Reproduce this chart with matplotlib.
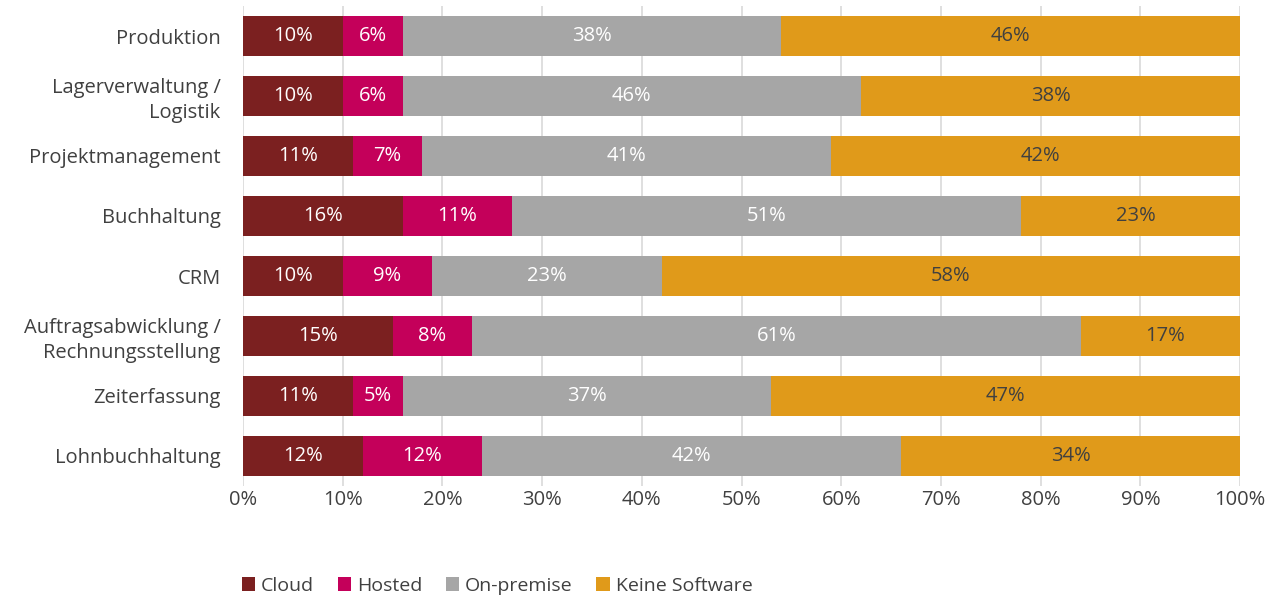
import numpy as np
import matplotlib.pyplot as plt

plt.rcParams['font.family'] = ['Open Sans', 'DejaVu Sans']

kategorien = ['Produktion', 'Lagerverwaltung /\nLogistik', 'Projektmanagement', 'Buchhaltung',
              'CRM', 'Auftragsabwicklung /\nRechnungsstellung', 'Zeiterfassung', 'Lohnbuchhaltung']
cloud = [10, 10, 11, 16, 10, 15, 11, 12]
hosted = [6, 6, 7, 11, 9, 8, 5, 12]
onpremise = [38, 46, 41, 51, 23, 61, 37, 42]
keine = [46, 38, 42, 23, 58, 17, 47, 34]

serien = ['Cloud', 'Hosted', 'On-premise', 'Keine Software']
farben = ['#7B2020', '#C4005A', '#A6A6A6', '#E09A1A']
textfarben = ['white', 'white', 'white', '#404040']

fig = plt.figure(figsize=(12.72, 6), dpi=100)
ax = fig.add_axes([0.191, 0.19, 0.784, 0.80])

y = np.arange(len(kategorien))
links = np.zeros(len(kategorien))
for werte, name, farbe, tf in zip([cloud, hosted, onpremise, keine], serien, farben, textfarben):
    werte = np.array(werte, dtype=float)
    ax.barh(y, werte, left=links, height=0.67, color=farbe, label=name, zorder=3)
    for i in range(len(werte)):
        ax.text(links[i] + werte[i] / 2, y[i], "%d%%" % werte[i], ha='center', va='center',
                color=tf, fontsize=14.5, zorder=4)
    links += werte

ax.set_xlim(0, 100)
ax.set_ylim(len(kategorien) - 0.5, -0.5)
ax.set_yticks(y)
ax.set_yticklabels(kategorien, fontsize=14.5, color='#404040', linespacing=1.3)
ax.set_xticks(np.arange(0, 101, 10))
ax.set_xticklabels(["%d%%" % v for v in range(0, 101, 10)], fontsize=14.5, color='#404040')
ax.tick_params(axis='y', length=0, pad=16)
ax.tick_params(axis='x', length=0, pad=3)
ax.grid(axis='x', color='#D9D9D9', linewidth=1.2, zorder=0)
for s in ax.spines.values():
    s.set_visible(False)

handles, labels = ax.get_legend_handles_labels()
fig.legend(handles, labels, loc='center', bbox_to_anchor=(497 / 1272, 0.024), ncol=4, frameon=False,
           fontsize=14, handlelength=0.7, handleheight=0.7, handletextpad=0.3, columnspacing=1.2,
           labelcolor='#404040')

plt.savefig("out.png", dpi=100)
plt.close()
